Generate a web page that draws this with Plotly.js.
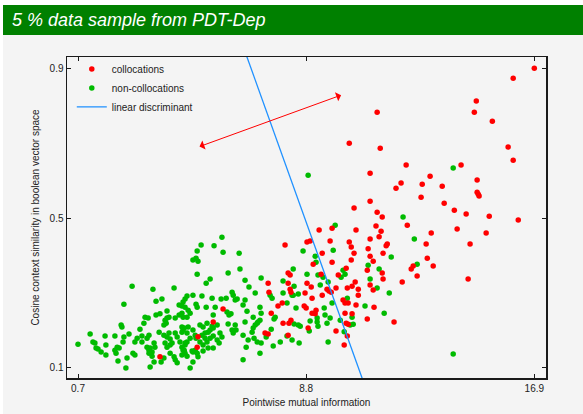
<!DOCTYPE html>
<html><head><meta charset="utf-8">
<script src="https://cdn.plot.ly/plotly-3.0.1.min.js"></script>
<style>html,body{margin:0;padding:0;background:#fff;}#chart{position:absolute;left:3px;top:5px;width:580px;height:409px;}</style>
</head><body><div id="chart"></div>
<script>
// collocations (red)
var colX = [16.90,16.15,14.84,14.77,15.41,11.32,10.33,11.43,15.97,16.15,
14.30,12.35,11.07,13.20,12.17,12.92,11.99,13.63,14.87,14.87,
14.91,14.94,12.88,13.70,11.07,10.50,14.06,14.48,15.30,11.32,
11.50,16.33,12.39,9.72,9.26,10.57,11.28,11.46,14.16,15.19,
13.24,8.83,8.94,9.65,10.33,11.07,11.39,13.06,14.62,11.68,
11.64,9.37,10.40,10.50,11.53,11.00,11.07,11.18,10.40,9.72,
9.05,13.10,13.31,12.60,12.53,12.74,11.50,10.97,10.22,9.94,
9.33,11.53,14.55,
12.21,8.83,8.98,8.76,9.01,9.37,9.54,9.61,9.69,9.86,
10.26,10.43,10.54,10.65,10.65,11.07,11.18,
10.11,10.18,10.29,10.57,11.21,
8.73,8.80,9.01,9.12,9.15,
10.22,10.29,10.43,10.18,10.97,11.92,
8.87,9.86,10.26,10.15,
8.05,8.16,8.23,8.16,8.23,8.26,
7.45,7.48,7.80,7.95,7.56,7.98,8.19,8.26,8.16,
7.34,7.45,
5.85,5.50,4.96,4.93,3.61];
var colY = [0.901,0.874,0.813,0.783,0.759,0.783,0.700,0.687,0.690,0.655,
0.642,0.642,0.620,0.612,0.594,0.591,0.580,0.585,0.602,0.569,
0.564,0.559,0.556,0.540,0.545,0.527,0.521,0.511,0.505,0.516,
0.503,0.495,0.481,0.473,0.468,0.468,0.479,0.465,0.471,0.460,
0.460,0.436,0.439,0.439,0.436,0.444,0.450,0.431,0.431,0.431,
0.426,0.406,0.423,0.406,0.406,0.418,0.398,0.385,0.388,0.382,
0.377,0.393,0.372,0.372,0.364,0.345,0.353,0.361,0.366,0.348,
0.350,0.337,0.337,
0.329,0.326,0.316,0.300,0.286,0.294,0.310,0.305,0.302,0.313,
0.313,0.318,0.329,0.310,0.294,0.321,0.308,
0.281,0.273,0.273,0.268,0.262,
0.265,0.260,0.246,0.244,0.254,
0.219,0.216,0.244,0.246,0.230,0.222,
0.206,0.198,0.185,0.161,
0.428,0.353,0.348,0.326,0.310,0.302,
0.326,0.302,0.265,0.273,0.246,0.219,0.219,0.227,0.187,
0.193,0.190,
0.257,0.222,0.183,0.155,0.129];

// non-collocations (green)
var nonX = [8.87,14.02,12.24,9.83,12.64,8.69,9.76,11.82,9.12,9.15,12.74,11.39,11.00,10.11,10.18,8.83,9.22,9.40,10.04,11.07,
9.58,9.30,8.37,8.34,8.52,11.32,11.75,10.26,10.89,9.72,8.44,9.44,9.19,9.19,8.94,9.47,9.65,9.54,9.22,10.01,10.36,10.47,10.43,11.57,8.37,8.52,8.59,8.91,10.15,8.30,8.55,9.58,14.02,
5.81,5.07,5.53,4.93,5.85,6.42,4.78,4.89,4.96,6.45,6.03,4.93,5.39,5.25,6.63,6.77,7.20,6.99,7.52,7.59,8.34,7.98,7.98,8.30,8.12,6.17,6.21,6.28,6.35,5.78,5.96,5.46,5.10,4.78,4.57,4.50,4.43,6.63,4.89,
2.62,3.36,4.11,3.47,3.68,2.33,
4.39,4.50,4.61,4.68,4.57,4.43,4.93,5.25,5.57,5.99,6.06,6.13,5.50,5.03,5.14,5.28,5.46,5.50,5.64,5.39,5.32,5.21,5.10,4.78,4.61,4.43,4.39,4.57,4.86,4.89,4.68,4.57,4.50,5.21,5.28,5.39,5.50,5.64,5.74,5.81,5.03,5.14,5.32,5.50,5.71,4.86,4.78,4.93,4.75,4.43,4.50,4.39,4.57,4.96,4.78,4.68,5.14,
6.03,6.17,6.21,6.28,6.31,6.56,6.74,6.95,6.67,6.56,7.16,7.06,7.20,6.92,6.99,7.06,7.09,7.16,7.20,6.88,6.63,6.92,6.70,7.16,7.38,7.56,7.70,7.66,7.88,7.63,8.12,6.56,
0.70,1.13,1.23,1.30,1.34,1.41,1.52,1.66,1.69,1.69,2.01,2.09,2.01,2.16,2.05,2.12,2.23,2.26,2.30,2.33,2.44,2.51,2.40,2.65,2.72,2.72,2.80,2.90,2.97,2.97,
3.04,3.08,3.19,3.15,3.22,3.15,3.22,3.26,3.33,3.22,3.40,3.43,3.33,3.40,3.26,3.47,3.61,3.58,3.65,3.75,3.75,3.79,3.86,3.93,3.83,3.86,3.75,3.86,3.93,3.97,
3.79,3.86,3.97,4.04,3.97,4.11,4.15,4.22,4.15,4.29,4.39,4.15,4.22,4.39,4.47,4.32,4.39,4.50,4.47,4.29];
var nonY = [0.615,0.634,0.503,0.481,0.444,0.412,0.414,0.396,0.398,0.382,0.377,0.364,0.374,0.361,0.350,0.350,0.348,0.342,0.342,0.337,
0.329,0.321,0.318,0.294,0.297,0.313,0.300,0.286,0.265,0.273,0.260,0.260,0.233,0.222,0.225,0.241,0.233,0.219,0.211,0.227,0.214,0.216,0.235,0.246,0.217,0.214,0.211,0.198,0.196,0.174,0.166,0.169,0.137,
0.449,0.428,0.426,0.412,0.409,0.406,0.388,0.393,0.385,0.364,0.353,0.350,0.337,0.326,0.334,0.316,0.340,0.300,0.294,0.286,0.364,0.332,0.300,0.294,0.273,0.302,0.294,0.281,0.284,0.284,0.286,0.286,0.292,0.294,0.292,0.284,0.276,0.281,0.270,
0.318,0.310,0.313,0.278,0.284,0.270,
0.265,0.262,0.254,0.246,0.235,0.235,0.262,0.262,0.262,0.249,0.241,0.244,0.241,0.214,0.209,0.219,0.211,0.206,0.214,0.201,0.195,0.193,0.187,0.201,0.209,0.201,0.209,0.193,0.187,0.179,0.179,0.169,0.161,0.179,0.169,0.179,0.185,0.174,0.193,0.182,0.169,0.161,0.153,0.153,0.166,0.147,0.142,0.139,0.145,0.147,0.139,0.134,0.131,0.129,0.115,0.099,0.145,
0.217,0.201,0.193,0.214,0.201,0.187,0.174,0.179,0.155,0.121,0.139,0.169,0.166,0.206,0.214,0.219,0.222,0.227,0.246,0.195,0.222,0.235,0.251,0.262,0.182,0.203,0.235,0.230,0.169,0.158,0.185,0.268,
0.163,0.190,0.169,0.166,0.153,0.150,0.142,0.185,0.161,0.134,0.185,0.155,0.147,0.153,0.139,0.118,0.214,0.209,0.169,0.182,0.126,0.190,0.099,0.139,0.134,0.169,0.179,0.203,0.185,0.169,
0.219,0.235,0.233,0.179,0.187,0.155,0.147,0.153,0.142,0.139,0.166,0.155,0.131,0.115,0.102,0.241,0.244,0.195,0.115,0.126,0.214,0.227,0.233,0.235,0.219,0.252,0.187,0.182,0.193,0.177,
0.166,0.155,0.161,0.166,0.139,0.129,0.121,0.113,0.233,0.241,0.246,0.193,0.182,0.195,0.206,0.169,0.155,0.166,0.147,0.268];

// linear discriminant
var lineX = [6.37, 11.13];
var lineY = [1.0, 0.0];

// double-headed arrow (start, end)
var arrowX = [4.96, 10.04];
var arrowY = [0.690, 0.829];

var xTicks = [0.7, 8.8, 16.9];
var yTicks = [0.1, 0.5, 0.9];
var xRange = [0.309, 17.315];
var yRange = [0.0725, 0.931];

var FONT = 'Liberation Sans, Arial, sans-serif';

var traces = [
  {type:'scatter', mode:'markers', name:'non-collocations', x:nonX, y:nonY, legendrank:2,
   marker:{color:'#00bb00', size:5.5}},
  {type:'scatter', mode:'markers', name:'collocations', x:colX, y:colY, legendrank:1,
   marker:{color:'#ff0000', size:5.5}},
  {type:'scatter', mode:'lines', name:'linear discriminant', x:lineX, y:lineY, legendrank:3,
   line:{color:'#1e90ff', width:1.3}}
];

var axisCommon = {
  showgrid:false, zeroline:false, showline:true, mirror:'ticks',
  linecolor:'#1a1a1a', linewidth:1.5, ticks:'inside', ticklen:4, tickwidth:1, tickcolor:'#1a1a1a',
  tickfont:{family:FONT, size:10, color:'#222'}
};

var layout = {
  width:580, height:409,
  margin:{l:64, r:37, t:52, b:36},
  paper_bgcolor:'#f4f4f4', plot_bgcolor:'#f4f4f4',
  font:{family:FONT, size:10, color:'#222'},
  title:{text:'5 % data sample from PDT-Dep', xref:'container', yref:'container',
    x:0.0155, xanchor:'left', y:0.963, yanchor:'middle',
    font:{family:FONT, size:18, color:'#ffffff', style:'italic'}},
  xaxis:Object.assign({}, axisCommon, {range:xRange, tickvals:xTicks, ticktext:xTicks.map(String),
    title:{text:'Pointwise mutual information', font:{family:FONT, size:10, color:'#222'}, standoff:6}}),
  yaxis:Object.assign({}, axisCommon, {range:yRange, tickvals:yTicks, ticktext:yTicks.map(String),
    title:{text:'Cosine context similarity in boolean vector space', font:{family:FONT, size:10, color:'#222'}, standoff:8}}),
  showlegend:true,
  legend:{x:0.01, y:1.008, xanchor:'left', yanchor:'top', bgcolor:'rgba(0,0,0,0)', font:{family:FONT, size:10, color:'#222'}},
  shapes:[{type:'rect', xref:'paper', yref:'paper', x0:-0.2, x1:1.2, y0:1.0685, y1:1.3,
    fillcolor:'#008000', line:{width:0}, layer:'below'}],
  annotations:[{x:arrowX[1], y:arrowY[1], ax:arrowX[0], ay:arrowY[0], xref:'x', yref:'y', axref:'x', ayref:'y',
    text:'', showarrow:true, arrowside:'end+start', arrowhead:1, startarrowhead:1,
    arrowsize:1.6, startarrowsize:1.6, arrowwidth:1, arrowcolor:'#ff0000', standoff:0, startstandoff:0}]
};

Plotly.newPlot('chart', traces, layout, {displayModeBar:false, staticPlot:true});
</script></body></html>
